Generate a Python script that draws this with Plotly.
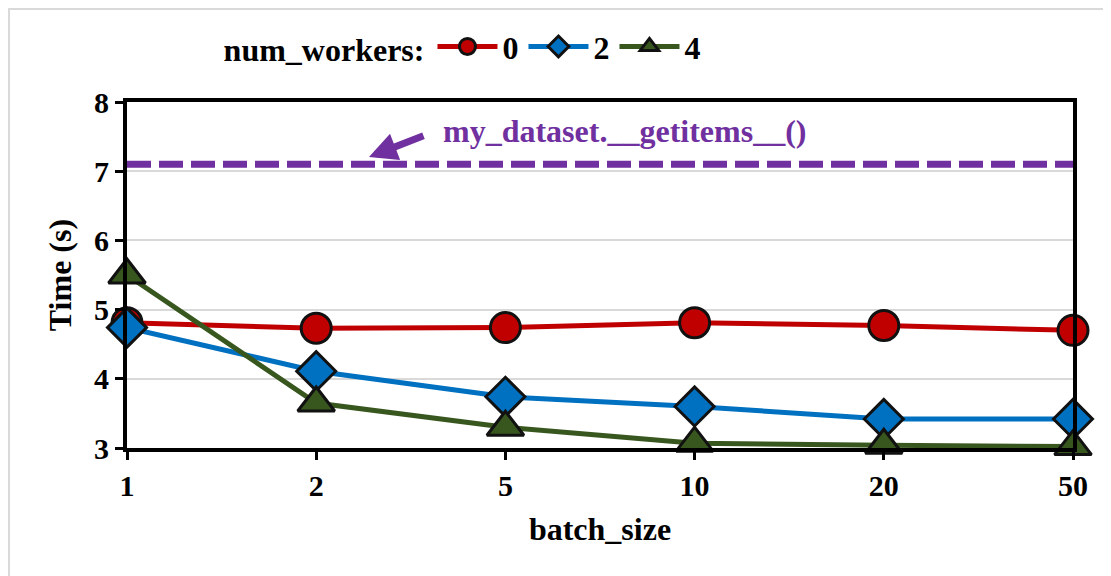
import plotly.graph_objects as go

batch_sizes = ["1", "2", "5", "10", "20", "50"]
workers_0 = [4.81, 4.73, 4.74, 4.81, 4.77, 4.70]
workers_2 = [4.74, 4.11, 3.74, 3.60, 3.42, 3.42]
workers_4 = [5.50, 3.65, 3.30, 3.07, 3.04, 3.02]
getitems_time = 7.10
series_names = ["0", "2", "4"]

FONT = "Liberation Serif"
fig = go.Figure()

styles = [
    (workers_0, "#C00000", "circle", 30),
    (workers_2, "#0070C0", "diamond", 30),
    (workers_4, "#38571F", "triangle-up", 32),
]
for name, (vals, col, sym, sz) in zip(series_names, styles):
    fig.add_trace(go.Scatter(
        x=batch_sizes, y=vals, name=name, mode="lines+markers",
        line=dict(color=col, width=5),
        marker=dict(symbol=sym, size=sz, color=col, line=dict(color="#111111", width=3)),
        cliponaxis=False,
    ))

fig.add_trace(go.Scatter(
    x=[batch_sizes[0], batch_sizes[-1]], y=[getitems_time, getitems_time],
    mode="lines", line=dict(color="#7030A0", width=7, dash="24px,8px"),
    showlegend=False, hoverinfo="skip", cliponaxis=False,
))

fig.add_annotation(
    x=1.279, y=7.205, xref="x", yref="y",
    ax=1.575, ay=7.52, axref="x", ayref="y",
    showarrow=True, arrowhead=2, arrowsize=0.8, arrowwidth=7, arrowcolor="#7030A0",
    text="",
)
fig.add_annotation(
    x=2.63, y=7.58, xref="x", yref="y", showarrow=False,
    text="<b>my_dataset.__getitems__()</b>",
    font=dict(family=FONT, size=32, color="#7030A0"),
)

fig.add_shape(type="rect", xref="paper", yref="paper",
              x0=-0.1247, x1=1.2, y0=-0.6, y1=1.2688,
              line=dict(color="#D9D9D9", width=2), layer="below")

fig.update_layout(
    width=1103, height=568,
    margin=dict(l=119, r=38, t=94, b=128, autoexpand=False),
    paper_bgcolor="white", plot_bgcolor="white",
    font=dict(family=FONT, size=30, color="black"),
    legend=dict(
        orientation="h", x=0.1, y=1.16, xanchor="left", yanchor="middle",
        title=dict(text="<b>num_workers:</b>", font=dict(family=FONT, size=32)),
        font=dict(family=FONT, size=32, weight="bold"), itemwidth=60,
        bgcolor="rgba(0,0,0,0)", tracegroupgap=0,
    ),
    xaxis=dict(
        type="category", range=[0, 5], automargin=False,
        title=dict(text="<b>batch_size</b>", font=dict(family=FONT, size=32), standoff=18),
        tickfont=dict(family=FONT, size=30),
        tickprefix="<b>", ticksuffix="</b>",
        ticks="outside", ticklen=8, tickwidth=3, tickcolor="black",
        showline=True, linecolor="black", linewidth=4, mirror=True,
        showgrid=False, zeroline=False,
    ),
    yaxis=dict(
        range=[3, 8], dtick=1, automargin=False,
        title=dict(text="<b>Time (s)</b>", font=dict(family=FONT, size=32), standoff=14),
        tickfont=dict(family=FONT, size=30),
        tickprefix="<b>", ticksuffix="</b>",
        ticks="outside", ticklen=8, tickwidth=3, tickcolor="black",
        showline=True, linecolor="black", linewidth=4, mirror=True,
        showgrid=True, gridcolor="#D9D9D9", gridwidth=2, zeroline=False,
    ),
)

fig.write_html("out.html")
